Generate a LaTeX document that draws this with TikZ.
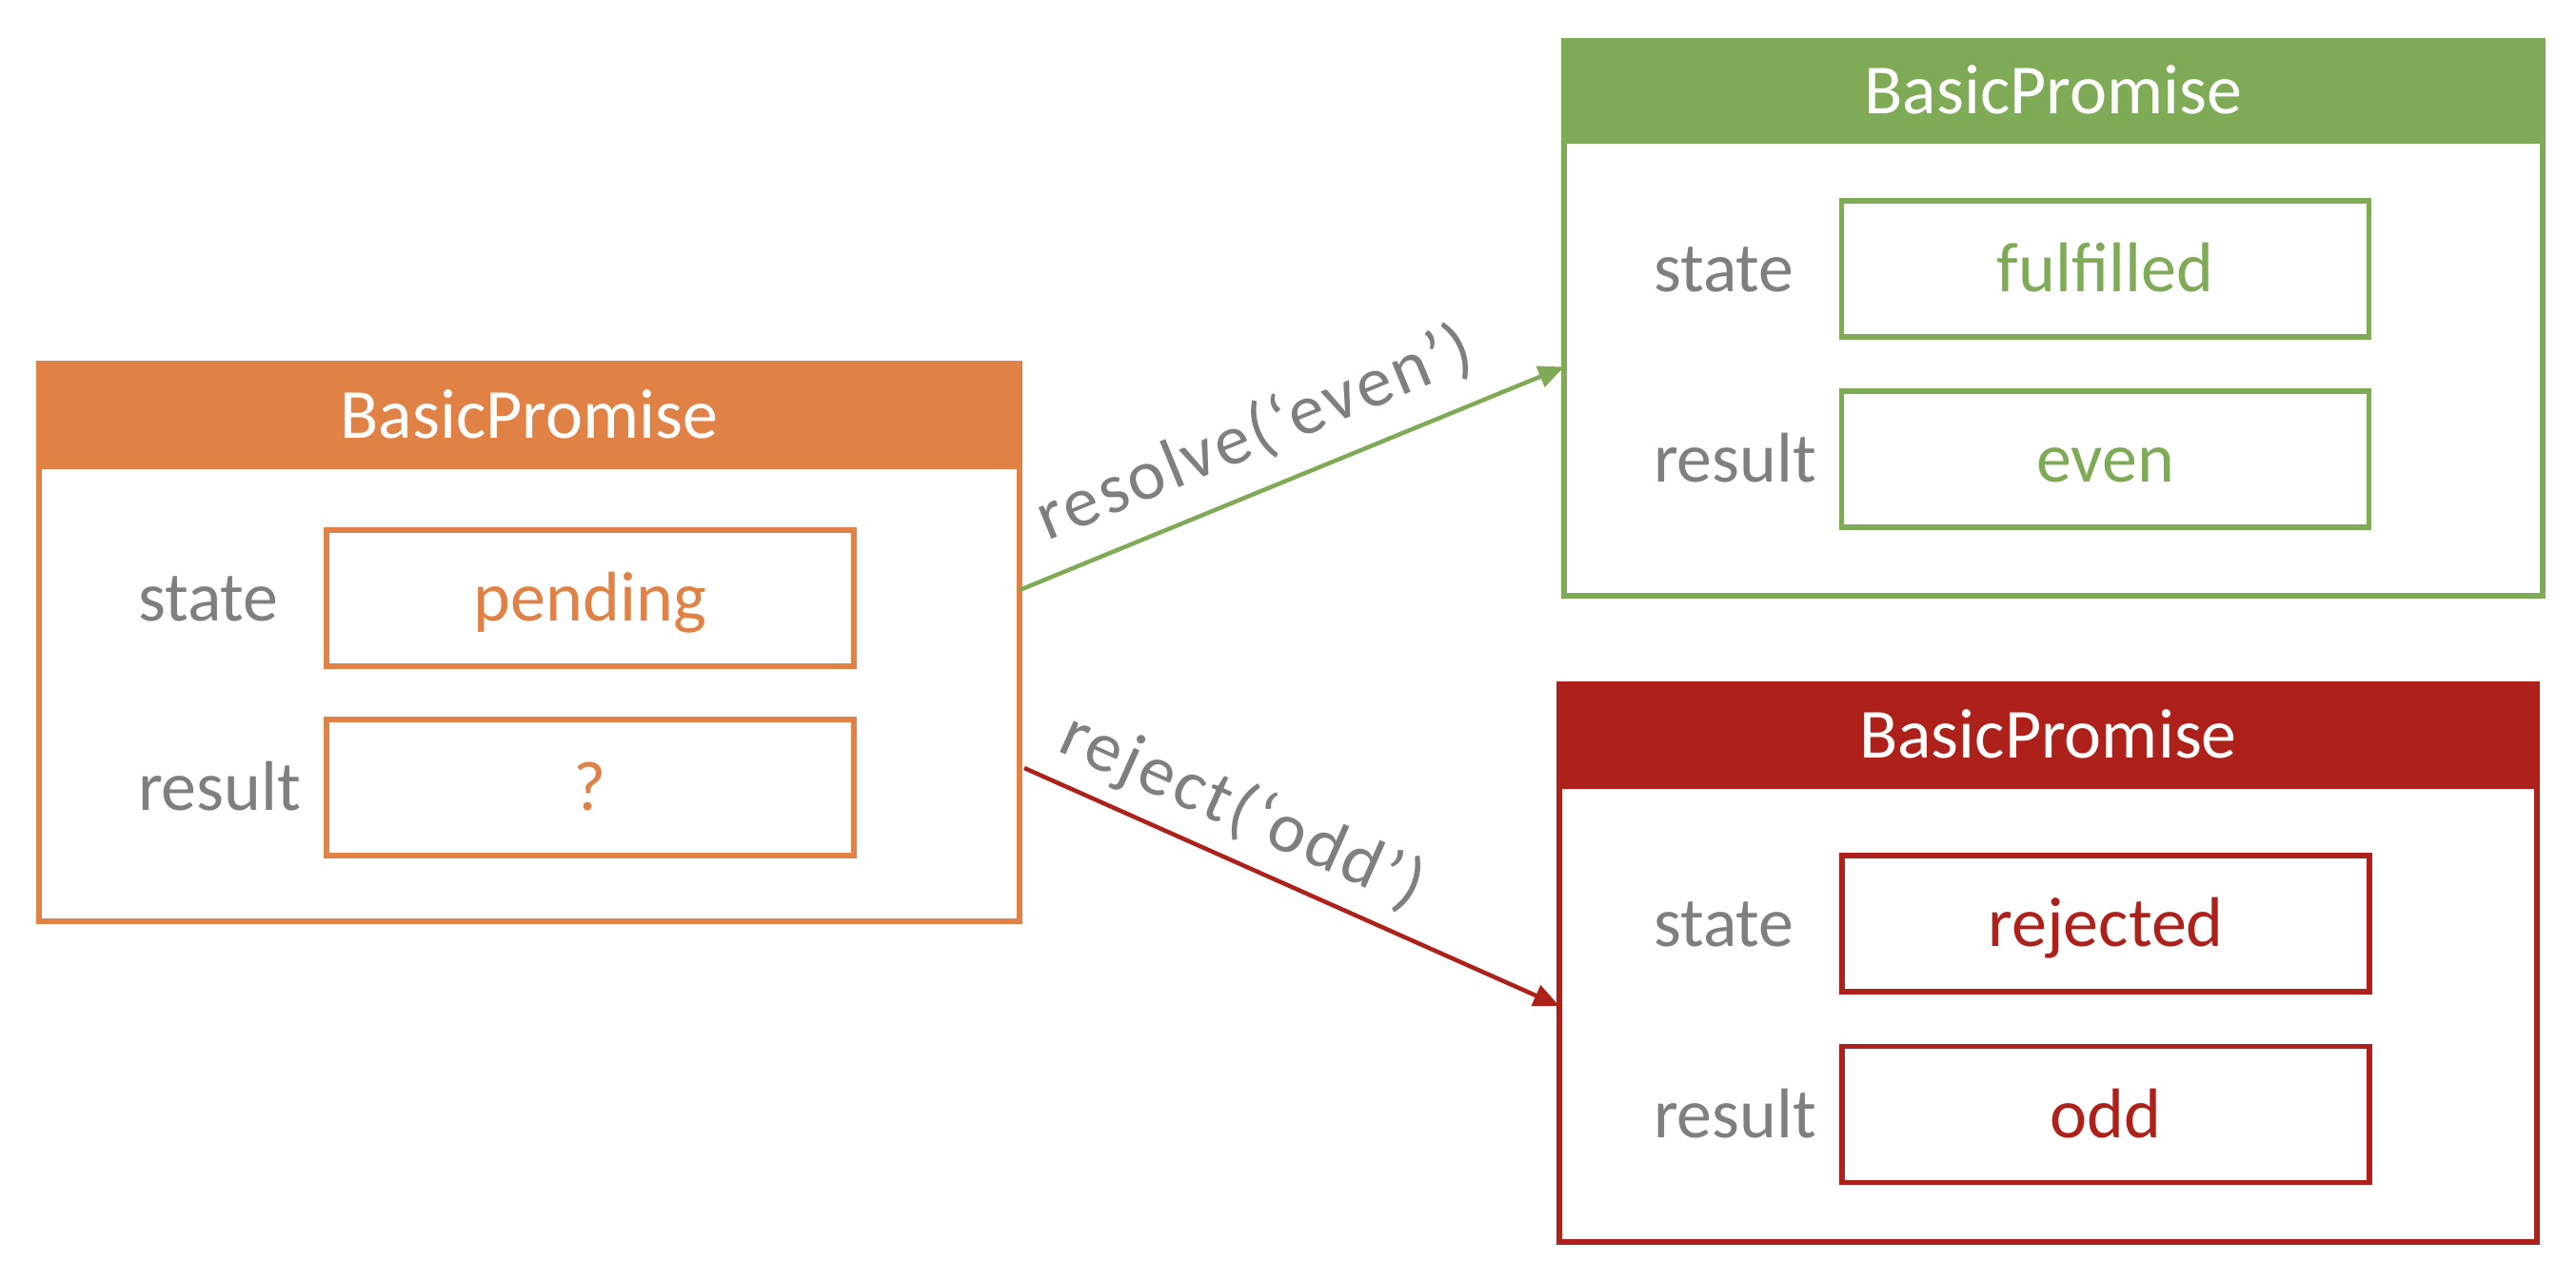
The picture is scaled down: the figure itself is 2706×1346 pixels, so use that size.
\documentclass[tikz,border=0pt]{standalone}
\usepackage{fontspec}
\setmainfont{Carlito}
\newfontfamily\spacedfont[LetterSpace=4]{Carlito}
\usetikzlibrary{arrows.meta}
\definecolor{porange}{HTML}{E08245}
\definecolor{pgreen}{HTML}{7FAA56}
\definecolor{pred}{HTML}{AE211A}
\definecolor{pgray}{HTML}{7F7F7F}
\begin{document}
\begin{tikzpicture}[x=1pt,y=-1pt,
  txt/.style={font=\fontsize{74}{80}\selectfont, text height=62pt, text depth=14pt, inner sep=0pt, outer sep=0pt},
  frame/.style={draw=#1, line width=5.5pt, fill=white, inner sep=0pt, outer sep=0pt},
  head/.style={txt, draw=#1, fill=#1, line width=5.5pt, text=white},
  valbox/.style={txt, draw=#1, line width=5.5pt, text=#1, minimum width=554pt, minimum height=143pt},
  lbl/.style={txt, text=pgray, anchor=west},
  conn/.style={draw=#1, line width=4.5pt, -{Triangle[length=27pt,width=23pt]}},
  clabel/.style={font=\spacedfont\fontsize{75}{82}\selectfont, text height=62pt, text depth=14pt, text=pgray, sloped, above, outer sep=0pt}
]
\useasboundingbox (0,0) rectangle (2706,1346);
% orange (pending)
\node[frame=porange, minimum width=1030pt, minimum height=586pt] (ob) at (556,675) {};
\node[head=porange, minimum width=1030pt, minimum height=108pt] (oh) at (556,436) {BasicPromise};
\node[valbox=porange] (os) at (620,628.5) {pending};
\node[valbox=porange] (or) at (620,827.5) {?};
\node[lbl] (osl) at (145,628.5) {state};
\node[lbl] (orl) at (145,827.5) {result};
% green (fulfilled)
\node[frame=pgreen, minimum width=1028pt, minimum height=583pt] (gb) at (2157,334.5) {};
\node[head=pgreen, minimum width=1028pt, minimum height=105pt] (gh) at (2157,95.5) {BasicPromise};
\node[valbox=pgreen] (gs) at (2211.5,282.5) {fulfilled};
\node[valbox=pgreen] (gr) at (2211.5,482.5) {even};
\node[lbl] (gsl) at (1737,282.5) {state};
\node[lbl] (grl) at (1737,482.5) {result};
% red (rejected)
\node[frame=pred, minimum width=1027pt, minimum height=586pt] (rb) at (2151.5,1012) {};
\node[head=pred, minimum width=1027pt, minimum height=107pt] (rh) at (2151.5,772.5) {BasicPromise};
\node[valbox=pred] (rs) at (2212,970.5) {rejected};
\node[valbox=pred] (rr) at (2212,1171) {odd};
\node[lbl] (rsl) at (1737,970.5) {state};
\node[lbl] (rrl) at (1737,1171) {result};
% connectors
\draw[conn=pgreen] ([yshift=55pt]ob.east) -- ([yshift=-51pt]gb.west)
  node[clabel, pos=0.47, inner sep=22pt] (lres) {resolve(‘even’)};
\draw[conn=pred] ([xshift=5pt,yshift=-132pt]ob.east) -- ([yshift=-45pt]rb.west)
  node[clabel, pos=0.37, inner sep=16pt] (lrej) {reject(‘odd’)};
\end{tikzpicture}
\end{document}
